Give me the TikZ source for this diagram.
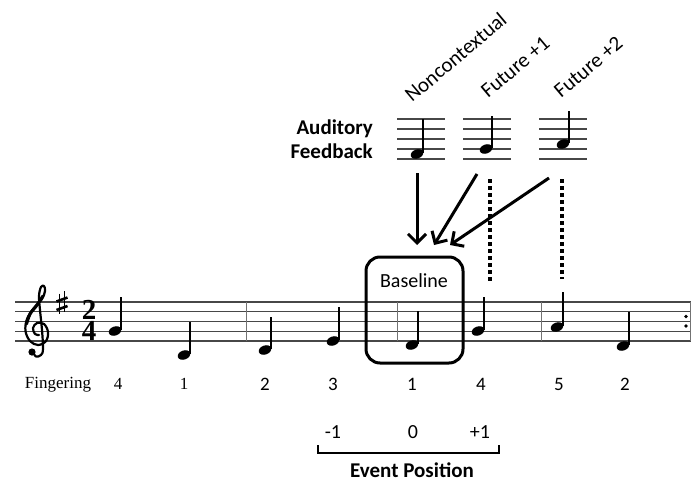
\documentclass[tikz,border=0pt]{standalone}
\usepackage{fontspec}
\setmainfont{Carlito}
\newfontfamily\seriffont{Liberation Serif}
\usetikzlibrary{arrows.meta,shapes.geometric}
\begin{document}
\begin{tikzpicture}[x=1pt,y=-1pt,
  staffline/.style={line width=1.1pt, black!72},
  barline/.style={line width=0.9pt, black!55},
  stem/.style={line width=1.3pt},
  head/.style={ellipse, fill=black, minimum width=13pt, minimum height=9pt, inner sep=0pt, rotate=20},
  txt/.style={font=\fontsize{20}{24}\selectfont, inner sep=0pt},
  rottxt/.style={font=\fontsize{21}{24}\selectfont, inner sep=0pt, rotate=40, anchor=base west},
  boldtxt/.style={font=\fontsize{21}{24}\selectfont\bfseries, inner sep=0pt},
  fingtxt/.style={font=\fontsize{19}{22}\selectfont, inner sep=0pt},
  seriftxt/.style={font=\seriffont\fontsize{17}{20}\selectfont, inner sep=0pt},
  tstxt/.style={font=\seriffont\bfseries\fontsize{29}{29}\selectfont, inner sep=0pt},
  fbarrow/.style={line width=3pt, -{Straight Barb[length=9pt,width=18pt,line width=3pt]}},
  guide/.style={line width=3.5pt, dash pattern=on 3.5pt off 3.5pt},
  smallstaff/.style={line width=1.1pt, black!72},
  clefline/.style={line width=2.2pt, line cap=round, line join=round},
]
\useasboundingbox (0,0) rectangle (692,481);

% main staff
\foreach \y in {302,311.75,321.5,331.25,341} \draw[staffline] (15,\y) -- (691,\y);
\foreach \x in {246,397,541} \draw[barline] (\x,302) -- (\x,341);
\draw[barline, line width=1.5pt] (690.5,302) -- (690.5,341);
\fill (686,316.5) circle (1.8pt);
\fill (686,326) circle (1.8pt);

% treble clef (drawn)
\draw[clefline] plot[smooth, tension=0.6] coordinates {
  (33,352) (36,356.5) (41,355) (43,349) (42,330) (40,310) (39,296) (41,287) (44,286) (45,291) (42,299) (34,308) (27,319) (25.5,331) (30,341) (38,345) (46,341) (48,332) (44,324) (37,323) (33,328) (35,334) (39,335)};
\draw[line width=3.2pt, line cap=round] plot[smooth, tension=0.6] coordinates {(43,296) (37,305) (30,314) (26.5,324)};
\fill (32,352) circle (3.6pt);

% key signature (sharp, drawn)
\draw[line width=1pt] (59.5,293.5) -- (59.5,314);
\draw[line width=1pt] (64.5,291) -- (64.5,311.5);
\draw[line width=2.6pt] (56.5,301.5) -- (67.5,297.5);
\draw[line width=2.6pt] (56.5,310) -- (67.5,306);

% time signature
\node[tstxt] (tsa) at (89,310) {2};
\node[tstxt] (tsb) at (89,331) {4};

% notes
\foreach \i/\x/\y/\t in {1/115/331/297, 2/184/355/322, 3/265/350/317, 4/333/341/307, 5/412/345/311, 6/478/331/297, 7/557/327/292, 8/623/346/312}{
  \node[head] (n\i) at (\x,\y) {};
  \draw[stem] (\x+6,\y-1) -- (\x+6,\t);
}

% baseline box
\node[draw, line width=3pt, rounded corners=14pt, minimum width=97pt, minimum height=106pt] (base) at (414.5,310) {};
\node[txt] (baselbl) at (414,281) {Baseline};

% fingering
\node[seriftxt] (fing) at (58,385) {Fingering};
\node[seriftxt] (f1) at (118,384) {4};
\node[seriftxt] (f2) at (184,384) {1};
\foreach \i/\x/\v in {3/265/2, 4/333/3, 5/412/1, 6/481/4, 7/559/5, 8/625/2}
  \node[fingtxt] (f\i) at (\x,384) {\v};

% event position
\node[txt] (em1) at (333,432) {-1};
\node[txt] (e0) at (413,432) {0};
\node[txt] (ep1) at (480,432) {+1};
\coordinate (bl) at (318,445);
\coordinate (br) at (499,445);
\draw[line width=2.5pt] (bl) -- ++(0,8) -| (br);
\node[boldtxt] (evpos) at (412,470) {Event Position};

% auditory feedback
\node[boldtxt, anchor=base east] (af1) at (373,135) {Auditory};
\node[boldtxt, anchor=base east] (af2) at (373,158) {Feedback};

% small staves
\foreach \x/\n in {397/A, 463/B, 539/C}{
  \foreach \y in {119,129,139,149,159} \draw[smallstaff] (\x,\y) -- (\x+48,\y);
}
\node[head] (hA) at (417,154) {};
\draw[stem] (423,153) -- (423,119);
\node[head] (hB) at (486,149) {};
\draw[stem] (492,148) -- (492,116);
\node[head] (hC) at (563,144) {};
\draw[stem] (569,143) -- (569,111);

% rotated labels
\node[rottxt] (lA) at (412,103) {Noncontextual};
\node[rottxt] (lB) at (488,99) {Future +1};
\node[rottxt] (lC) at (561,99) {Future +2};

% arrows
\coordinate (a1s) at (417,173);
\coordinate (a1e) at (417,245);
\coordinate (a2s) at (477,174);
\coordinate (a2e) at (434,245);
\coordinate (a3s) at (549,178);
\coordinate (a3e) at (450,245);
\draw[fbarrow] (a1s) -- (a1e);
\draw[fbarrow] (a2s) -- (a2e);
\draw[fbarrow] (a3s) -- (a3e);

% dotted guides
\coordinate (g1s) at (490,179);
\coordinate (g1e) at (490,281);
\coordinate (g2s) at (562,179);
\coordinate (g2e) at (562,279);
\draw[guide] (g1s) -- (g1e);
\draw[guide] (g2s) -- (g2e);
\end{tikzpicture}
\end{document}
